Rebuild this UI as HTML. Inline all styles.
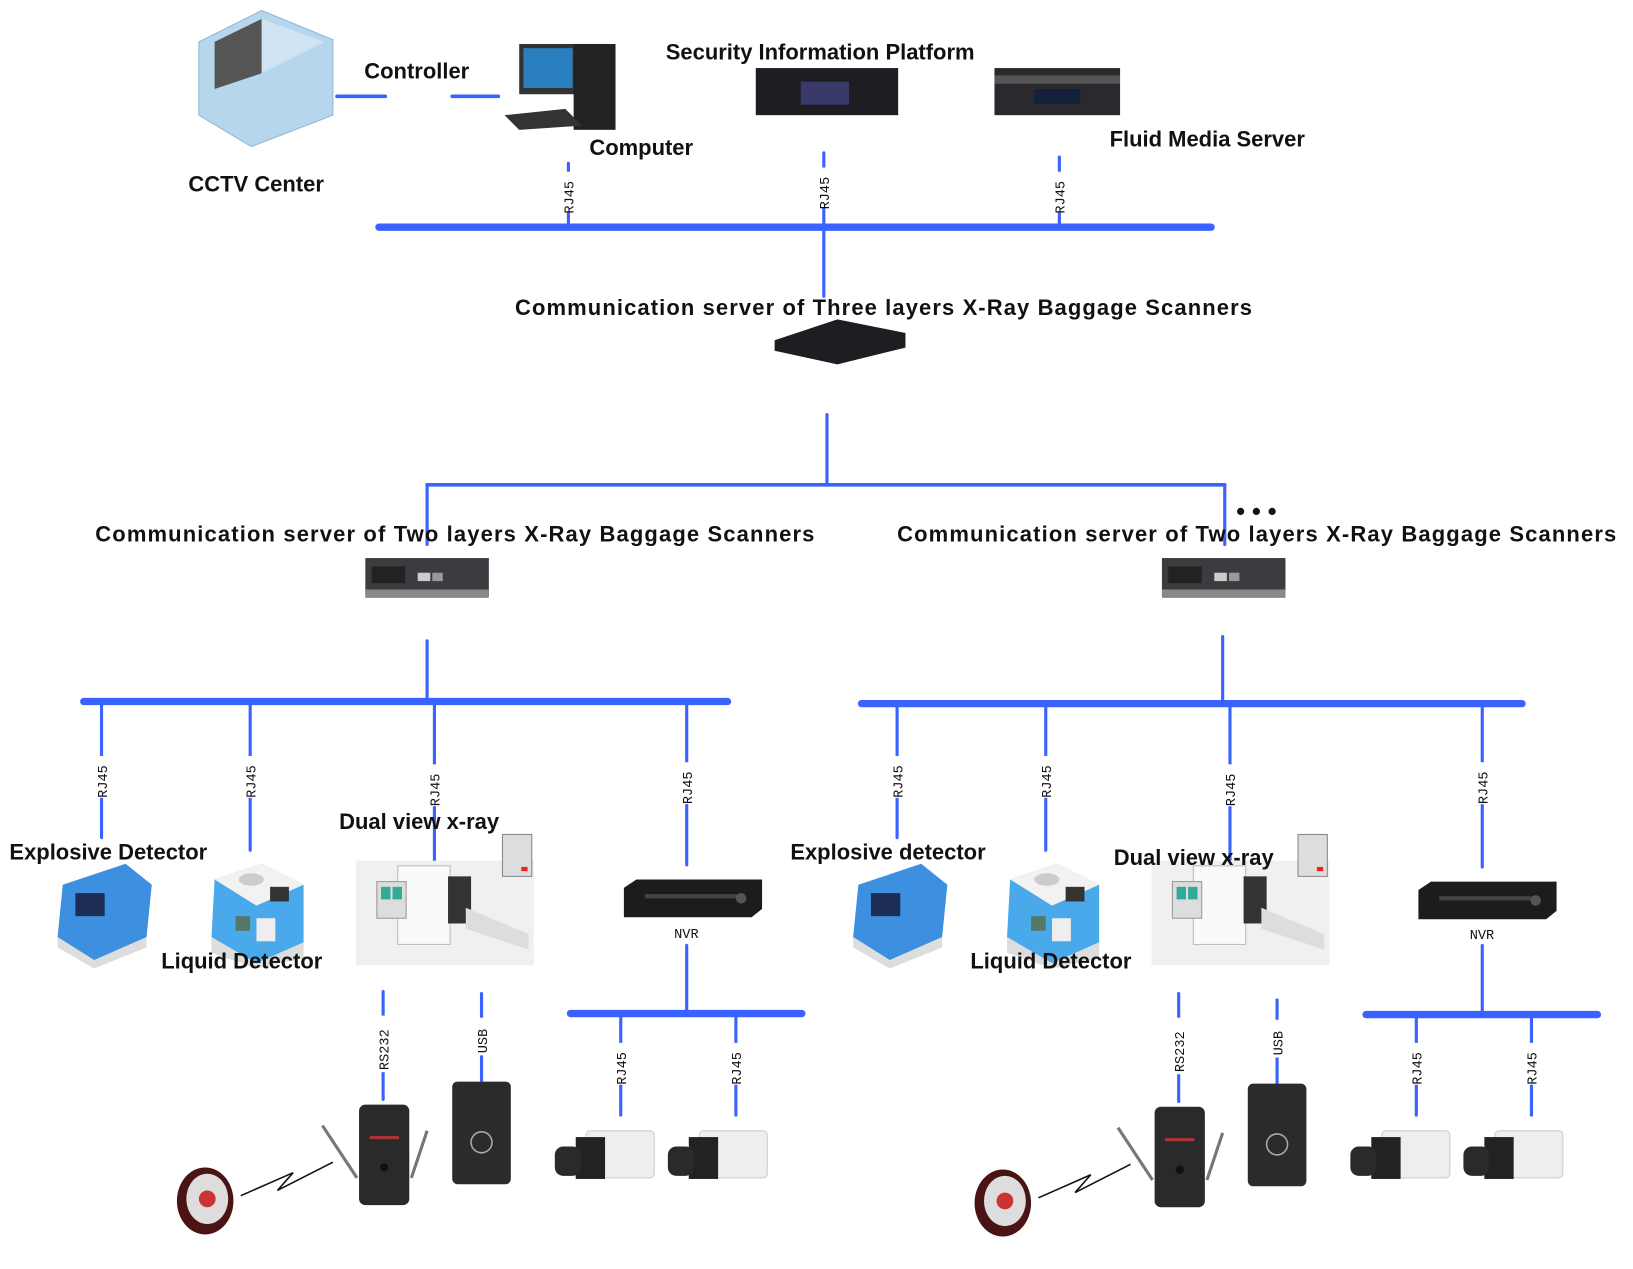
<!DOCTYPE html>
<html><head><meta charset="utf-8"><style>
html,body{margin:0;padding:0;background:#fff;}
svg{display:block}
.t{font-family:"Liberation Sans",Arial,sans-serif;font-size:21px;fill:#111;font-weight:bold}
.l{font-family:"Liberation Mono",monospace;font-size:13px;fill:#111}
.b{stroke:#3a62ff;stroke-linecap:round;fill:none}
</style></head><body>
<svg width="1633" height="1269" viewBox="0 0 1560 1212" preserveAspectRatio="none" xmlns="http://www.w3.org/2000/svg">
<defs>
<g id="sw"><rect x="0" y="0" width="118" height="36" fill="#3c3c40"/><rect x="0" y="30" width="118" height="8" fill="#888"/><rect x="6" y="8" width="32" height="16" fill="#222"/><rect x="50" y="14" width="12" height="8" fill="#ccc"/><rect x="64" y="14" width="10" height="8" fill="#999"/></g>
<g id="exp"><path d="M10 20 L70 0 L95 20 L90 70 L40 92 L5 70Z" fill="#3d8fe0"/><path d="M5 70 L40 92 L90 70 L90 80 L40 100 L5 80Z" fill="#ddd"/><rect x="22" y="28" width="28" height="22" fill="#1c2e55"/></g>
<g id="liq"><path d="M5 15 L50 0 L90 20 L90 75 L45 95 L2 70Z" fill="#4aa9ea"/><path d="M5 15 L50 0 L90 20 L45 40Z" fill="#f2f2f2"/><ellipse cx="40" cy="15" rx="12" ry="6" fill="#ccc"/><rect x="58" y="22" width="18" height="14" fill="#333"/><rect x="25" y="50" width="14" height="14" fill="#576"/><rect x="45" y="52" width="18" height="22" fill="#eee"/><path d="M2 70 L45 95 L90 75 L90 90 L45 100 L2 85Z" fill="#ddd"/></g>
<g id="xr"><rect x="0" y="0" width="170" height="100" fill="#f0f0f0"/><rect x="40" y="5" width="50" height="75" fill="#fafafa" stroke="#bbb"/><rect x="88" y="15" width="22" height="45" fill="#333"/><rect x="20" y="20" width="28" height="35" fill="#ddd" stroke="#999"/><rect x="24" y="25" width="9" height="12" fill="#3a9"/><rect x="35" y="25" width="9" height="12" fill="#3a9"/><path d="M105 45 L165 70 L165 85 L105 65Z" fill="#ddd"/><rect x="140" y="-25" width="28" height="40" fill="#ddd" stroke="#888"/><rect x="158" y="6" width="6" height="4" fill="#e22"/></g>
<g id="nvr"><path d="M0 8 L12 0 L132 0 L132 28 L122 36 L0 36Z" fill="#1c1c1e"/><rect x="20" y="14" width="90" height="4" fill="#444"/><circle cx="112" cy="18" r="5" fill="#555"/></g>
<g id="cam"><rect x="30" y="0" width="65" height="45" rx="4" fill="#eee" stroke="#ccc"/><rect x="20" y="6" width="28" height="40" fill="#222"/><rect x="0" y="15" width="25" height="28" rx="8" fill="#2a2a2a"/></g>
<g id="rcv"><rect x="0" y="0" width="48" height="96" rx="6" fill="#2a2a2a"/><circle cx="24" cy="60" r="4" fill="#111"/><line x1="-2" y1="70" x2="-35" y2="20" stroke="#777" stroke-width="3"/><line x1="50" y1="70" x2="65" y2="25" stroke="#777" stroke-width="3"/><rect x="10" y="30" width="28" height="3" fill="#a33"/></g>
<g id="usb"><rect x="0" y="0" width="56" height="98" rx="5" fill="#2b2b2b"/><circle cx="28" cy="58" r="10" fill="none" stroke="#aaa" stroke-width="1.5"/></g>
<g id="pager"><ellipse cx="26" cy="32" rx="27" ry="32" fill="#4a1414"/><ellipse cx="28" cy="30" rx="20" ry="24" fill="#ddd"/><circle cx="28" cy="30" r="8" fill="#c33"/><path d="M60 27 L110 5 L95 22 L148 -5" fill="none" stroke="#111" stroke-width="1.5"/></g>
</defs>

<!-- top -->
<path d="M190 40 L250 10 L318 38 L318 110 L240 140 L190 110Z" fill="#b6d6ec" stroke="#8fb8d8"/>
<path d="M205 40 L250 18 L250 70 L205 85Z" fill="#555"/>
<path d="M250 18 L310 40 L250 70Z" fill="#cfe3f2"/>
<line class="b" x1="322" y1="92" x2="368" y2="92" stroke-width="3.5"/>
<line class="b" x1="432" y1="92" x2="476" y2="92" stroke-width="3.5"/>
<text class="t" x="348" y="75">Controller</text>
<rect x="496" y="42" width="55" height="48" fill="#333"/><rect x="500" y="46" width="47" height="38" fill="#2a7fc0"/>
<rect x="548" y="42" width="40" height="82" fill="#222"/>
<path d="M482 110 L540 104 L556 120 L496 124Z" fill="#333"/>
<text class="t" x="563" y="148">Computer</text>
<text class="t" x="180" y="183">CCTV Center</text>
<text class="t" x="636" y="57">Security Information Platform</text>
<rect x="722" y="65" width="136" height="45" fill="#1e1e22"/><rect x="765" y="78" width="46" height="22" fill="#3a3a6a"/>
<rect x="950" y="65" width="120" height="45" fill="#2a2a2e"/><rect x="950" y="72" width="120" height="8" fill="#555"/><rect x="988" y="85" width="44" height="14" fill="#15203a"/>
<text class="t" x="1060" y="140">Fluid Media Server</text>

<line class="b" x1="543" y1="156" x2="543" y2="217" stroke-width="3"/>
<line class="b" x1="787" y1="146" x2="787" y2="283" stroke-width="3"/>
<line class="b" x1="1012" y1="150" x2="1012" y2="217" stroke-width="3"/>
<line class="b" x1="362" y1="217" x2="1157" y2="217" stroke-width="7"/>
<rect x="535" y="164" width="16" height="38" fill="#fff"/><text class="l" transform="translate(548,204) rotate(-90)">RJ45</text>
<rect x="779" y="160" width="16" height="38" fill="#fff"/><text class="l" transform="translate(792,200) rotate(-90)">RJ45</text>
<rect x="1004" y="164" width="16" height="38" fill="#fff"/><text class="l" transform="translate(1017,204) rotate(-90)">RJ45</text>

<text class="t" x="492" y="301" textLength="704">Communication server of Three layers X-Ray Baggage Scanners</text>
<path d="M740 325 L800 305 L865 318 L865 332 L800 348 L740 335Z" fill="#1e1e22"/>

<line class="b" x1="790" y1="396" x2="790" y2="463" stroke-width="3"/>
<line class="b" x1="408" y1="463" x2="1170" y2="463" stroke-width="3.5"/>
<line class="b" x1="408" y1="463" x2="408" y2="520" stroke-width="3"/>
<line class="b" x1="1170" y1="463" x2="1170" y2="520" stroke-width="3"/>
<text class="t" x="1181" y="496" style="font-size:24px">• • •</text>
<text class="t" x="91" y="517" textLength="687">Communication server of Two layers X-Ray Baggage Scanners</text>
<text class="t" x="857" y="517" textLength="687">Communication server of Two layers X-Ray Baggage Scanners</text>
<use href="#sw" x="349" y="533"/>
<use href="#sw" x="1110" y="533"/>

<!-- left branch -->
<line class="b" x1="408" y1="612" x2="408" y2="670" stroke-width="3"/>
<line class="b" x1="80" y1="670" x2="695" y2="670" stroke-width="7"/>
<line class="b" x1="97" y1="670" x2="97" y2="800" stroke-width="3"/>
<line class="b" x1="239" y1="670" x2="239" y2="812" stroke-width="3"/>
<line class="b" x1="415" y1="670" x2="415" y2="830" stroke-width="3"/>
<line class="b" x1="656" y1="670" x2="656" y2="826" stroke-width="3"/>
<!-- right branch -->
<line class="b" x1="1168" y1="608" x2="1168" y2="672" stroke-width="3"/>
<line class="b" x1="823" y1="672" x2="1454" y2="672" stroke-width="7"/>
<line class="b" x1="857" y1="672" x2="857" y2="800" stroke-width="3"/>
<line class="b" x1="999" y1="672" x2="999" y2="812" stroke-width="3"/>
<line class="b" x1="1175" y1="672" x2="1175" y2="830" stroke-width="3"/>
<line class="b" x1="1416" y1="672" x2="1416" y2="828" stroke-width="3"/>
<g>
<rect x="89" y="722" width="16" height="40" fill="#fff"/><text class="l" transform="translate(102,762) rotate(-90)">RJ45</text>
<rect x="231" y="722" width="16" height="40" fill="#fff"/><text class="l" transform="translate(244,762) rotate(-90)">RJ45</text>
<rect x="407" y="730" width="16" height="40" fill="#fff"/><text class="l" transform="translate(420,770) rotate(-90)">RJ45</text>
<rect x="648" y="728" width="16" height="40" fill="#fff"/><text class="l" transform="translate(661,768) rotate(-90)">RJ45</text>
<rect x="849" y="722" width="16" height="40" fill="#fff"/><text class="l" transform="translate(862,762) rotate(-90)">RJ45</text>
<rect x="991" y="722" width="16" height="40" fill="#fff"/><text class="l" transform="translate(1004,762) rotate(-90)">RJ45</text>
<rect x="1167" y="730" width="16" height="40" fill="#fff"/><text class="l" transform="translate(1180,770) rotate(-90)">RJ45</text>
<rect x="1408" y="728" width="16" height="40" fill="#fff"/><text class="l" transform="translate(1421,768) rotate(-90)">RJ45</text>
</g>

<use href="#exp" x="50" y="825"/>
<use href="#liq" x="200" y="825"/>
<use href="#xr" x="340" y="822"/>
<use href="#nvr" x="596" y="840"/>
<text class="l" x="644" y="896">NVR</text>
<use href="#exp" x="810" y="825"/>
<use href="#liq" x="960" y="825"/>
<use href="#xr" x="1100" y="822"/>
<use href="#nvr" x="1355" y="842"/>
<text class="l" x="1404" y="897">NVR</text>

<text class="t" x="9" y="821">Explosive Detector</text>
<text class="t" x="154" y="925">Liquid Detector</text>
<text class="t" x="324" y="792">Dual view x-ray</text>
<text class="t" x="755" y="821">Explosive detector</text>
<text class="t" x="927" y="925">Liquid Detector</text>
<text class="t" x="1064" y="826">Dual view x-ray</text>

<!-- lower left -->
<line class="b" x1="656" y1="903" x2="656" y2="968" stroke-width="3"/>
<line class="b" x1="545" y1="968" x2="766" y2="968" stroke-width="7"/>
<line class="b" x1="593" y1="968" x2="593" y2="1065" stroke-width="3"/>
<line class="b" x1="703" y1="968" x2="703" y2="1065" stroke-width="3"/>
<line class="b" x1="366" y1="947" x2="366" y2="1050" stroke-width="3"/>
<line class="b" x1="460" y1="949" x2="460" y2="1032" stroke-width="3"/>
<rect x="358" y="970" width="16" height="54" fill="#fff"/><text class="l" transform="translate(371,1022) rotate(-90)">RS232</text>
<rect x="452" y="972" width="16" height="36" fill="#fff"/><text class="l" transform="translate(465,1006) rotate(-90)">USB</text>
<rect x="585" y="996" width="16" height="40" fill="#fff"/><text class="l" transform="translate(598,1036) rotate(-90)">RJ45</text>
<rect x="695" y="996" width="16" height="40" fill="#fff"/><text class="l" transform="translate(708,1036) rotate(-90)">RJ45</text>
<use href="#cam" x="530" y="1080"/>
<use href="#cam" x="638" y="1080"/>
<use href="#rcv" x="343" y="1055"/>
<use href="#usb" x="432" y="1033"/>
<use href="#pager" x="170" y="1115"/>

<!-- lower right -->
<line class="b" x1="1416" y1="903" x2="1416" y2="969" stroke-width="3"/>
<line class="b" x1="1305" y1="969" x2="1526" y2="969" stroke-width="7"/>
<line class="b" x1="1353" y1="969" x2="1353" y2="1065" stroke-width="3"/>
<line class="b" x1="1463" y1="969" x2="1463" y2="1065" stroke-width="3"/>
<line class="b" x1="1126" y1="949" x2="1126" y2="1052" stroke-width="3"/>
<line class="b" x1="1220" y1="955" x2="1220" y2="1034" stroke-width="3"/>
<rect x="1118" y="972" width="16" height="54" fill="#fff"/><text class="l" transform="translate(1131,1024) rotate(-90)">RS232</text>
<rect x="1212" y="974" width="16" height="36" fill="#fff"/><text class="l" transform="translate(1225,1008) rotate(-90)">USB</text>
<rect x="1345" y="996" width="16" height="40" fill="#fff"/><text class="l" transform="translate(1358,1036) rotate(-90)">RJ45</text>
<rect x="1455" y="996" width="16" height="40" fill="#fff"/><text class="l" transform="translate(1468,1036) rotate(-90)">RJ45</text>
<use href="#cam" x="1290" y="1080"/>
<use href="#cam" x="1398" y="1080"/>
<use href="#rcv" x="1103" y="1057"/>
<use href="#usb" x="1192" y="1035"/>
<use href="#pager" x="932" y="1117"/>
</svg>
</body></html>
